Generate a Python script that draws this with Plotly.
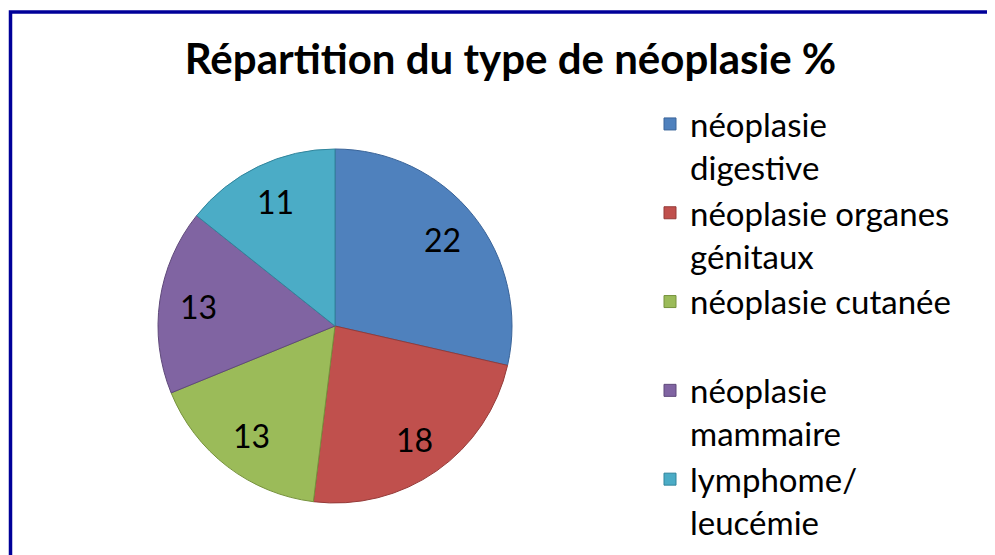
import math
import plotly.graph_objects as go

categories = ["néoplasie<br>digestive", "néoplasie organes<br>génitaux", "néoplasie cutanée<br> ",
              "néoplasie<br>mammaire", "lymphome/<br>leucémie"]
values = [22, 18, 13, 13, 11]
colors = ["#4F81BD", "#C0504D", "#9BBB59", "#8064A2", "#4BACC6"]
edge_colors = ["#3A6499", "#953B39", "#76923C", "#5F497A", "#31859C"]
title_text = "Répartition du type de néoplasie %"

W, H = 995, 555
OFF = 8  # page body margin
cx, cy, R = 335 - OFF, 326 - OFF, 177
label_r = 0.78

fig = go.Figure(go.Pie(
    labels=categories,
    values=values,
    sort=False,
    direction="clockwise",
    rotation=0,
    marker=dict(colors=colors, line=dict(color=edge_colors, width=1)),
    textinfo="none",
    domain=dict(x=[(cx - R) / W, (cx + R) / W], y=[(H - cy - R) / H, (H - cy + R) / H]),
    hoverinfo="label+value",
))

# value labels placed at the middle angle of each slice
total = sum(values)
cum = 0
annotations = []
for v in values:
    mid = math.radians(90 - 360 * (cum + v / 2) / total)
    cum += v
    px = cx + label_r * R * math.cos(mid)
    py = cy - label_r * R * math.sin(mid)
    annotations.append(dict(x=px / W, y=1 - py / H, xref="paper", yref="paper",
                            text=str(v), showarrow=False, xanchor="center", yanchor="middle",
                            font=dict(family="Lato", size=32, color="black")))

fig.update_layout(
    width=W, height=H,
    margin=dict(l=0, r=0, t=0, b=0),
    paper_bgcolor="white",
    font=dict(family="Lato", color="black"),
    title=dict(text="<b>" + title_text + "</b>", x=(510.5 - OFF) / W, y=1 - 51 / H,
               xanchor="center", yanchor="middle",
               font=dict(family="Lato", size=42, color="black")),
    legend=dict(x=(650 - OFF) / W, y=1 - (96 - OFF) / H, xanchor="left", yanchor="top",
                valign="top", font=dict(family="Lato", size=33, color="black"),
                itemwidth=30, bgcolor="rgba(0,0,0,0)"),
    annotations=annotations,
    shapes=[dict(type="rect", xref="paper", yref="paper",
                 x0=(10.5 - OFF) / W, x1=1.02, y0=-0.05, y1=1 - (12 - OFF) / H,
                 line=dict(color="#000099", width=3.5))],
)

fig.write_html("out.html")
